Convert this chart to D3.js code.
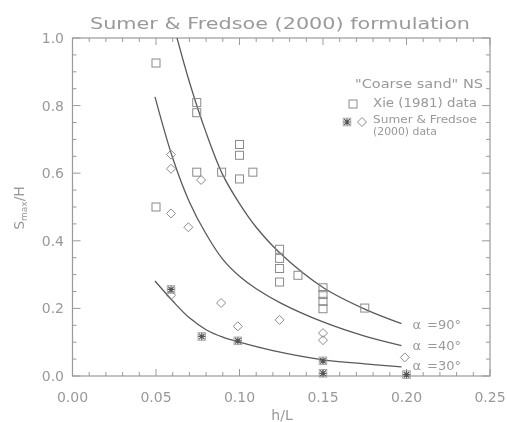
<!DOCTYPE html>
<html><head><meta charset="utf-8">
<script src="https://cdn.jsdelivr.net/npm/d3@7"></script>
<style>body{margin:0;background:#fff;} svg{display:block;}</style>
</head><body>
<svg id="chart" width="507" height="422"></svg>
<script>
// ---- data ----
const xTickLabels = ["0.00","0.05","0.10","0.15","0.20","0.25"];
const yTickLabels = ["0.0","0.2","0.4","0.6","0.8","1.0"];
const xTicks = [0, 0.05, 0.10, 0.15, 0.20, 0.25];
const yTicks = [0, 0.2, 0.4, 0.6, 0.8, 1.0];

// Xie (1981) data  (h/L, S/H)
const xieHL = [0.05,0.05,0.0744,0.0744,0.0744,0.0893,0.10,0.10,0.10,0.108,0.124,0.124,0.124,0.124,0.135,0.15,0.15,0.15,0.15,0.175];
const xieS  = [0.926,0.50,0.809,0.779,0.603,0.603,0.685,0.653,0.583,0.603,0.375,0.348,0.318,0.278,0.298,0.261,0.241,0.221,0.199,0.201];

// Sumer & Fredsoe (2000) data, open diamonds
const sfDiaHL = [0.059,0.059,0.077,0.059,0.0694,0.059,0.089,0.099,0.124,0.15,0.15,0.199];
const sfDiaS  = [0.655,0.613,0.58,0.481,0.44,0.239,0.216,0.147,0.166,0.127,0.106,0.055];
// Sumer & Fredsoe (2000) data, asterisks
const sfAstHL = [0.059,0.0774,0.099,0.15,0.15,0.20];
const sfAstS  = [0.256,0.117,0.104,0.045,0.008,0.004];

// Formulation curves
const c90HL = [0.0615,0.07,0.08,0.09,0.10,0.11,0.125,0.15,0.175,0.197];
const c90S  = [1.02,0.87,0.72,0.595,0.51,0.44,0.36,0.262,0.198,0.155];
const c40HL = [0.0494,0.06,0.07,0.08,0.09,0.10,0.11,0.125,0.15,0.175,0.197];
const c40S  = [0.826,0.645,0.515,0.42,0.345,0.295,0.258,0.215,0.16,0.118,0.09];
const c30HL = [0.0494,0.06,0.07,0.08,0.09,0.10,0.12,0.15,0.175,0.197];
const c30S  = [0.281,0.222,0.172,0.137,0.115,0.100,0.075,0.048,0.036,0.027];
const curveLabels = ["=90°","=40°","=30°"];
const curveLabelS = [0.152,0.09,0.03];

// ---- drawing ----
const svg = d3.select("#chart");
const L = 72.5, R = 490, T = 38, B = 376;
const x = d3.scaleLinear().domain([0,0.25]).range([L,R]);
const y = d3.scaleLinear().domain([0,1]).range([B,T]);
const axisCol = "#9a9a9a", textCol = "#999999", lineCol = "#5a5a5a", markCol = "#8a8a8a";
const font = "DejaVu Sans, sans-serif";

const defs = svg.append("defs");
defs.append("filter").attr("id","soft").append("feGaussianBlur").attr("stdDeviation",0.45);
defs.append("clipPath").attr("id","clip").append("rect").attr("x",L).attr("y",T).attr("width",R-L).attr("height",B-T);

const g = svg.append("g").attr("filter","url(#soft)");

// title
g.append("text").attr("x",280).attr("y",29).attr("text-anchor","middle")
  .attr("font-family",font).attr("font-size",16.5).attr("fill",textCol)
  .attr("textLength",380).attr("lengthAdjust","spacingAndGlyphs")
  .text("Sumer & Fredsoe (2000) formulation");

// frame
g.append("rect").attr("x",L).attr("y",T).attr("width",R-L).attr("height",B-T)
  .attr("fill","none").attr("stroke",axisCol).attr("stroke-width",1.2);

// ticks
const xMinor = d3.range(0,0.2501,0.01);
const yMinor = d3.range(0,1.0001,0.05);
function isMajor(v, arr){ return arr.some(a=>Math.abs(a-v)<1e-6); }
const tk = g.append("g").attr("stroke",axisCol).attr("stroke-width",1);
xMinor.forEach(v=>{
  const len = isMajor(v,xTicks)?7:4;
  tk.append("line").attr("x1",x(v)).attr("x2",x(v)).attr("y1",B).attr("y2",B-len);
  tk.append("line").attr("x1",x(v)).attr("x2",x(v)).attr("y1",T).attr("y2",T+len);
});
yMinor.forEach(v=>{
  const len = isMajor(v,yTicks)?8:4;
  tk.append("line").attr("y1",y(v)).attr("y2",y(v)).attr("x1",L).attr("x2",L+len);
  tk.append("line").attr("y1",y(v)).attr("y2",y(v)).attr("x1",R).attr("x2",R-len);
});

// tick labels
g.append("g").selectAll("text").data(xTicks).join("text")
  .attr("x",d=>x(d)).attr("y",402).attr("text-anchor","middle")
  .attr("font-family",font).attr("font-size",14).attr("fill",textCol)
  .text((d,i)=>xTickLabels[i]);
g.append("g").selectAll("text").data(yTicks).join("text")
  .attr("x",64).attr("y",d=>y(d)).attr("dy","0.36em").attr("text-anchor","end")
  .attr("font-family",font).attr("font-size",14).attr("fill",textCol)
  .text((d,i)=>yTickLabels[i]);

// axis titles
g.append("text").attr("x",282).attr("y",420).attr("text-anchor","middle")
  .attr("font-family",font).attr("font-size",14).attr("fill",textCol).text("h/L");
const yl = g.append("text").attr("transform","translate(24,208) rotate(-90)").attr("text-anchor","middle")
  .attr("font-family",font).attr("font-size",14).attr("fill",textCol);
yl.append("tspan").text("S");
yl.append("tspan").attr("font-size",9).attr("dy",3).text("max");
yl.append("tspan").attr("dy",-3).text("/H");

// curves
const line = d3.line().x(d=>x(d[0])).y(d=>y(d[1])).curve(d3.curveCatmullRom.alpha(0.5));
const curves = [d3.zip(c90HL,c90S), d3.zip(c40HL,c40S), d3.zip(c30HL,c30S)];
g.append("g").attr("clip-path","url(#clip)").selectAll("path").data(curves).join("path")
  .attr("d",line).attr("fill","none").attr("stroke",lineCol).attr("stroke-width",1.3);

// curve labels
curves.forEach((c,i)=>{
  const t = g.append("text").attr("x",x(0.2)+6).attr("y",y(curveLabelS[i])).attr("dy","0.35em")
    .attr("font-family",font).attr("font-size",13).attr("fill",textCol);
  t.append("tspan").text("α");
  t.append("tspan").attr("dx",6).text(curveLabels[i]);
});

// markers
const sq = 8;
function square(sel, px, py){
  sel.append("rect").attr("x",px-sq/2).attr("y",py-sq/2).attr("width",sq).attr("height",sq)
    .attr("fill","none").attr("stroke",markCol).attr("stroke-width",1);
}
function diamond(sel, px, py){
  const r = 4.5;
  sel.append("path").attr("d",`M${px},${py-r}L${px+r},${py}L${px},${py+r}L${px-r},${py}Z`)
    .attr("fill","none").attr("stroke",markCol).attr("stroke-width",1);
}
function asterisk(sel, px, py){
  const r = 3.8, d = r*0.75;
  sel.append("path").attr("d",`M${px-r},${py}H${px+r}M${px},${py-r}V${py+r}M${px-d},${py-d}L${px+d},${py+d}M${px-d},${py+d}L${px+d},${py-d}`)
    .attr("fill","none").attr("stroke","#555").attr("stroke-width",1.2);
  sel.append("rect").attr("x",px-r).attr("y",py-r).attr("width",2*r).attr("height",2*r)
    .attr("fill","none").attr("stroke","#999").attr("stroke-width",0.8);
}
const mk = g.append("g");
d3.zip(xieHL,xieS).forEach(d=>square(mk,x(d[0]),y(d[1])));
d3.zip(sfDiaHL,sfDiaS).forEach(d=>diamond(mk,x(d[0]),y(d[1])));
d3.zip(sfAstHL,sfAstS).forEach(d=>asterisk(mk,x(d[0]),y(d[1])));

// legend
const lg = g.append("g").attr("font-family",font).attr("fill",textCol);
lg.append("text").attr("x",355).attr("y",88).attr("font-size",12.5)
  .attr("textLength",128).attr("lengthAdjust","spacingAndGlyphs").text("\"Coarse sand\" NS");
square(lg,353,104);
lg.append("text").attr("x",373).attr("y",106.5).attr("font-size",12)
  .attr("textLength",104).attr("lengthAdjust","spacingAndGlyphs").text("Xie (1981) data");
asterisk(lg,347,122);
diamond(lg,362,122);
lg.append("text").attr("x",373).attr("y",122.5).attr("font-size",10.5)
  .attr("textLength",104).attr("lengthAdjust","spacingAndGlyphs").text("Sumer & Fredsoe");
lg.append("text").attr("x",373).attr("y",135).attr("font-size",10.5)
  .attr("textLength",64).attr("lengthAdjust","spacingAndGlyphs").text("(2000) data");
</script>
</body></html>
